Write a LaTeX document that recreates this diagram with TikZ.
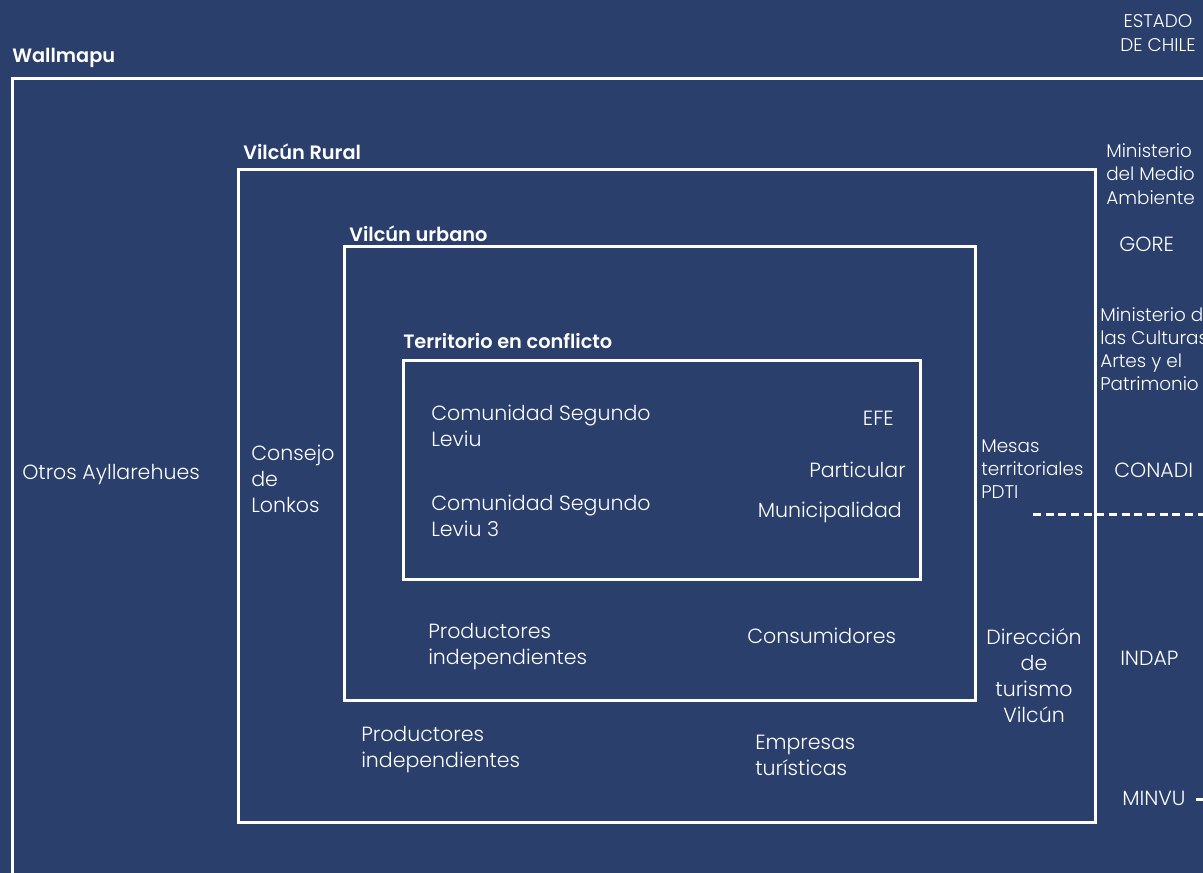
\documentclass[tikz,border=0pt]{standalone}
\usepackage{fontspec}
\setmainfont{Poppins Light}[BoldFont={Poppins SemiBold}]
\usepackage{tikz}
\usetikzlibrary{positioning}

\definecolor{navy}{RGB}{42,63,108}

\begin{document}
\begin{tikzpicture}[
  x=0.75pt, y=-0.75pt,
  frame/.style={draw=white, line width=2.25pt},
  sep/.style={draw=white, line width=2.25pt, dash pattern=on 6pt off 3.5pt},
  txt/.style={text=white, inner sep=0pt, anchor=west, align=left,
    font=\fontsize{15.4}{19.5}\selectfont},
  small/.style={txt, font=\fontsize{13.8}{17.4}\selectfont},
  ttl/.style={text=white, inner sep=0pt, anchor=west,
    font=\fontsize{14.5}{17}\selectfont\bfseries}
]
\fill[navy] (0,0) rectangle (1203,873);
\clip (0,0) rectangle (1203,873);

% boxes
\draw[frame] (12,79) rectangle (1240,900);
\draw[frame] (238,170) rectangle (1095,822);
\draw[frame] (344,247) rectangle (975,700);
\draw[frame] (403,361) rectangle (920,579);

% titles
\node[ttl] (wallmapu) at (12,58) {Wallmapu};
\node[ttl] (rural) at (243,152) {Vilcún Rural};
\node[ttl] (urbano) at (349,234) {Vilcún urbano};
\node[ttl] (conflicto) at (403,341) {Territorio en conflicto};

% actores
\node[txt] (otros) at (22,475) {Otros Ayllarehues};
\node[txt] (lonkos) at (251,479) {Consejo\\de\\Lonkos};
\node[txt] (leviu) at (431,426) {Comunidad Segundo\\Leviu};
\node[txt] (leviu3) at (431,516) {Comunidad Segundo\\Leviu 3};
\node[txt, anchor=east] (efe) at (894,418) {EFE};
\node[txt, anchor=east] (particular) at (906,470) {Particular};
\node[txt, anchor=east] (muni) at (902,512) {Municipalidad};
\node[small] (mesas) at (981,469) {Mesas\\territoriales\\PDTI};
\node[txt] (produrb) at (428,647) {Productores\\independientes};
\node[txt] (consum) at (747,636) {Consumidores};
\node[txt, anchor=center, align=center] (turismo) at (1034,676) {Dirección\\de\\turismo\\Vilcún};
\node[txt] (prodrur) at (361,750) {Productores\\independientes};
\node[txt] (empresas) at (755,755) {Empresas\\turísticas};

% estado
\node[small, anchor=center, align=center] (estado) at (1158,33) {ESTADO\\DE CHILE};
\node[small] (mma) at (1106,174) {Ministerio\\del Medio\\Ambiente};
\node[txt] (gore) at (1119,244) {GORE};
\node[small] (cultura) at (1100,349) {Ministerio de\\las Culturas,\\Artes y el\\Patrimonio};
\node[txt] (conadi) at (1114,470) {CONADI};
\node[txt] (indap) at (1120,658) {INDAP};
\node[txt] (minvu) at (1122,798) {MINVU};

\coordinate (mesasend) at (1033,514);
\coordinate (right1) at (1215,514);
\coordinate (minvuend) at (1196,799);
\coordinate (right2) at (1215,799);
\draw[sep] (mesasend) -- (right1);
\draw[sep] (minvuend) -- (right2);
\end{tikzpicture}
\end{document}
